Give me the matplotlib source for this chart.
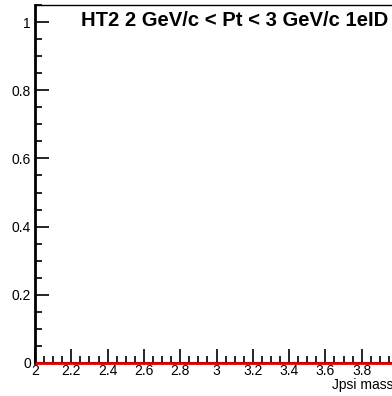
import matplotlib
matplotlib.use("Agg")
import matplotlib.pyplot as plt
import numpy as np
from matplotlib.ticker import MultipleLocator

# Jpsi mass histogram (empty for this pt bin)
bin_lo = 2.0
bin_width = 0.1
counts = [0, 0, 0, 0, 0, 0, 0, 0, 0, 0, 0,
          0, 0, 0, 0, 0, 0, 0, 0, 0, 0, 0]
title = "HT2 2 GeV/c < Pt < 3 GeV/c 1eID"
xlabel = "Jpsi mass"

edges = bin_lo + bin_width * np.arange(len(counts) + 1)

plt.rcParams['font.family'] = ['Liberation Sans', 'DejaVu Sans']

fig = plt.figure(figsize=(3.92, 3.96), dpi=100)
W, H = 392, 396
# axes in pixel coords: left 35, bottom y=363, top y=5, one x unit ~181.5 px
x0, y0, y1 = 35, 363, 5
xmax = 4.2
ax = fig.add_axes([x0 / W, (H - y0) / H, (xmax - 2) * 181.5 / W, (y0 - y1) / H])

ax.stairs(counts, edges, color='#e00000', lw=2, baseline=None,
          zorder=5, clip_on=False)

ax.set_xlim(2, xmax)
ax.set_ylim(0, 1.05)
ax.xaxis.set_minor_locator(MultipleLocator(0.05))
ax.yaxis.set_minor_locator(MultipleLocator(0.05))
ax.set_xticks(np.arange(2, 4.01, 0.2))
ax.set_xticklabels(['2', '2.2', '2.4', '2.6', '2.8', '3', '3.2', '3.4', '3.6', '3.8', '4'])
ax.set_yticks([0, 0.2, 0.4, 0.6, 0.8, 1.0])
ax.set_yticklabels(['0', '0.2', '0.4', '0.6', '0.8', '1'])

ax.tick_params(which='both', direction='in', top=False, right=False,
               labelsize=10, color='black')
ax.tick_params(axis='x', pad=1)
ax.tick_params(axis='y', pad=3)
ax.tick_params(which='major', length=10, width=1.2)
ax.tick_params(which='minor', length=5, width=1.2)

ax.spines['left'].set_linewidth(2)
ax.spines['bottom'].set_linewidth(1.5)
ax.spines['top'].set_linewidth(1)
ax.spines['right'].set_linewidth(1)

fig.text(81 / W, 1 - 20 / H, title, fontsize=14.6, fontweight='bold',
         ha='left', va='center')
fig.text(332 / W, 1 - 385 / H, xlabel, fontsize=10, ha='left', va='center')

fig.savefig("out.png", dpi=100)
